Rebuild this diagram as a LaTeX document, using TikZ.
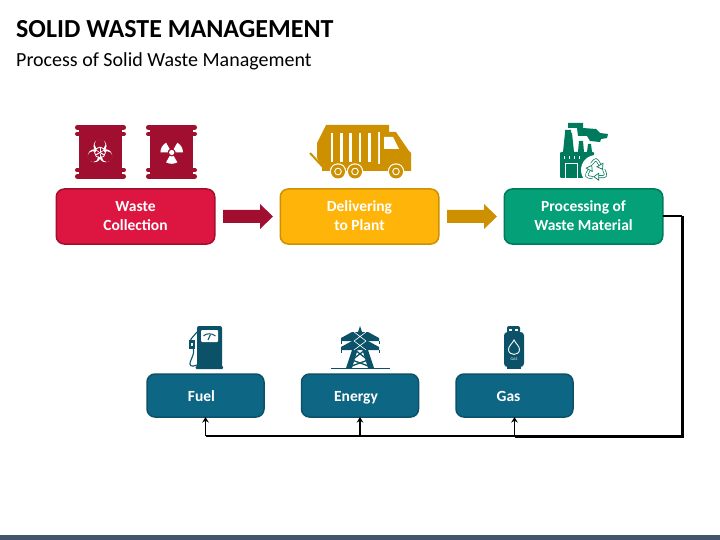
\documentclass[tikz,border=0pt]{standalone}
\usepackage{fontspec}
\usetikzlibrary{arrows.meta}
\setmainfont{Carlito}
\definecolor{redfill}{HTML}{DC1640}
\definecolor{reddark}{HTML}{A00F30}
\definecolor{yelfill}{HTML}{FFB40A}
\definecolor{yeldark}{HTML}{CC9000}
\definecolor{grnfill}{HTML}{04A078}
\definecolor{grndark}{HTML}{007A5C}
\definecolor{tealfill}{HTML}{0E6685}
\definecolor{tealdark}{HTML}{0B5269}
\definecolor{bandcol}{HTML}{44546A}
\begin{document}
\begin{tikzpicture}[>={Stealth[length=5.5pt,width=6.5pt]},x=1pt,y=-1pt,
	box/.style={draw,line width=1.5pt,rounded corners=8pt,inner sep=0pt,outer sep=0pt,align=center,text=white,font=\fontsize{15.5}{19}\selectfont\bfseries},
	bigbox/.style={box,minimum width=158.5pt,minimum height=55pt,text height=28pt,text depth=0pt},
	smallbox/.style={box,minimum width=117pt,minimum height=43pt,text height=11pt,text depth=0pt},
	blockarrow/.style={draw=none,fill=#1}]
	  \useasboundingbox (0,0) rectangle (720,540);
	  \fill[bandcol] (0,535) rectangle (720,540);
	  \node[anchor=west,inner sep=0pt,font=\fontsize{26}{30}\selectfont\bfseries] (title) at (16,29) {SOLID WASTE MANAGEMENT};
	  \node[anchor=west,inner sep=0pt,font=\fontsize{20}{24}\selectfont] (subtitle) at (16,61.5) {Process of Solid Waste Management};
	  \node[bigbox,fill=redfill,draw=reddark] (collect) at (135.5,216.5) {Waste\\Collection};
	  \node[bigbox,fill=yelfill,draw=yeldark] (deliver) at (359.5,216.5) {Delivering\\to Plant};
	  \node[bigbox,fill=grnfill,draw=grndark] (process) at (583.5,216.5) {Processing of\\Waste Material};
	  \node[smallbox,fill=tealfill,draw=tealdark] (fuel) at (205.5,395.5) {Fuel\hspace{8pt}};
	  \node[smallbox,fill=tealfill,draw=tealdark] (energy) at (360,395.5) {Energy\hspace{8pt}};
	  \node[smallbox,fill=tealfill,draw=tealdark] (gas) at (514.5,395.5) {Gas\hspace{12pt}};
	  \fill[blockarrow=reddark] (223,210) -- (260,210) -- (260,204) -- (273,216.5) -- (260,229) -- (260,223) -- (223,223) -- cycle;
	  \fill[blockarrow=yeldark] (447,210) -- (484,210) -- (484,204) -- (497,216.5) -- (484,229) -- (484,223) -- (447,223) -- cycle;
	  \coordinate (c1) at (682,216.5);
	  \coordinate (c2) at (682,436);
	  \coordinate (j1) at (gas.south |- c2);
	  \coordinate (j2) at (energy.south |- c2);
	  \coordinate (j3) at (fuel.south |- c2);
	  \draw[line width=2pt] (process.east) -- (c1);
	  \draw[line width=3pt] (c1) -- (c2) -- (j1);
	  \draw[line width=1.8pt] (j1) -- (j3);
	  \draw[->,line width=1.7pt] (j1) -- (gas.south);
	  \draw[->,line width=1.7pt] (j2) -- (energy.south);
	  \draw[->,line width=1.7pt] (j3) -- (fuel.south);
	  \foreach \bx in {75,146} {
	    \begin{scope}[shift={(\bx,125)}]
	      \fill[reddark] (4,0) rectangle (47,54);
	      \draw[reddark,line width=4.6pt,line cap=round] (2.3,2.5) -- (48.7,2.5);
	      \draw[reddark,line width=4pt,line cap=round] (2,9) -- (49,9);
	      \draw[reddark,line width=4pt,line cap=round] (2,45) -- (49,45);
	      \draw[reddark,line width=4.6pt,line cap=round] (2.3,51.5) -- (48.7,51.5);
	    \end{scope}
	  }
	  \foreach \ang in {270,30,150} {
	    \fill[white] (100,152.5) ++(\ang:6.5) circle (6.5);
	  }
	  \foreach \ang in {270,30,150} {
	    \fill[reddark] (100,152.5) ++(\ang:8.3) circle (5.4);
	  }
	  \fill[reddark] (100,152.5) circle (4.6);
	  \draw[white,line width=0.8pt] (100,152.5) circle (5.4);
	  \foreach \ang in {270,30,150} {
	    \draw[white,line width=1pt] (100,152.5) -- ++(\ang:5);
	    \draw[white,line width=0.7pt] (100,152.5) ++(\ang+180:1.5) -- ++(\ang+180:3);
	  }
	  \foreach \ang in {90,210,330} {
	    \fill[white] (171.7,152.5) ++(\ang-30:4) -- ++(\ang-30:7.3) arc (\ang-30:\ang+30:11.3) -- ++(\ang+30:-7.3) arc (\ang+30:\ang-30:4) -- cycle;
	  }
	  \fill[white] (171.7,152.5) circle (2.6);
	  \fill[yeldark] (326,125) -- (389,125) -- (389,132) -- (378,132) -- (378,171) -- (322,166) -- (317,158) -- (317,143) -- cycle;
	  \fill[yeldark] (380,132) -- (396,132) -- (409,151) -- (411,153) -- (411,171) -- (380,171) -- cycle;
	  \fill[white] (384,137) -- (393,137) -- (399,149) -- (384,149) -- cycle;
	  \fill[yeldark] (322,164) rectangle (380,171);
	  \draw[yeldark,line width=2pt] (310,153) -- (323,167);
	  \foreach \sx in {332,341.5,350.5,360,369.5} {
	    \draw[white,line width=2.4pt] (\sx,133.5) -- (\sx,162.5);
	  }
	  \foreach \wx in {338,355,396} {
	    \fill[white] (\wx,171.5) circle (8.2);
	    \fill[yeldark] (\wx,171.5) circle (7);
	    \fill[white] (\wx,171.5) circle (3.8);
	    \fill[yeldark] (\wx,171.5) circle (2.7);
	  }
	  \fill[grndark] (568,123) -- (583,123) -- (583,128) -- (596,129) -- (600,133) -- (608,134) -- (607,138) -- (601,139) -- (600,142) -- (590,141) -- (587,136) -- (578,136) -- (577,128) -- (568,128) -- cycle;
	  \fill[grndark] (565,130) -- (571,130) -- (571,133) -- (572,133) -- (574,152) -- (563,152) -- (565,133) -- cycle;
	  \fill[grndark] (579,141) -- (583,141) -- (584,152) -- (578,152) -- cycle;
	  \fill[grndark] (588,144) -- (591,144) -- (592,152) -- (587,152) -- cycle;
	  \fill[grndark,rounded corners=1pt] (560,152) -- (594,152) -- (594,178) -- (560,178) -- cycle;
	  \fill[white] (565,163) rectangle (578,178);
	  \fill[grndark] (566,164) rectangle (577,178);
	  \foreach \dx in {563.5,568.5,573.5,578.5} {
	    \fill[white] (\dx,156.5) rectangle (\dx+1.2,159.5);
	  }
	  \fill[white] (596,170) circle (15);
	  \foreach \rr in {0,120,240} {
	    \begin{scope}[shift={(596,170.5)},rotate=\rr]
	      \draw[grndark,line width=3pt,rounded corners=3pt] (-4.5,-6.5) -- (0,-12) -- (4,-5.5);
	      \draw[white,line width=1.6pt,rounded corners=3pt] (-4.5,-6.5) -- (0,-12) -- (4,-5.5);
	      \filldraw[fill=white,draw=grndark,line width=0.7pt] (7,-7.25) -- (6.5,-1.15) -- (1,-3.75) -- cycle;
	    \end{scope}
	  }
	  \fill[tealdark,rounded corners=2pt] (197,326) rectangle (222,368);
	  \fill[tealdark,rounded corners=1pt] (195.5,366) rectangle (223,369);
	  \fill[white,rounded corners=1pt] (201,330) rectangle (218,342);
	  \draw[tealdark,line width=1pt] (203.5,336) .. controls (206,333) and (212,333) .. (215.5,336);
	  \draw[tealdark,line width=1.1pt] (210.5,334.5) -- (208,340);
	  \draw[tealdark,line width=1.1pt] (197,332) -- (191,339) -- (191,345) .. controls (196,350) and (193,355) .. (191,360) .. controls (188,367) and (192,367) .. (197,365);
	  \fill[tealdark] (189,340) rectangle (194.5,349);
	  \fill[white] (191,343) rectangle (192.5,346);
	  \draw[tealdark,line width=1pt] (331,368.5) -- (390,368.5);
	  \fill[tealdark] (360,326) -- (346,368) -- (352,368) -- (360,342) -- (368,368) -- (374,368) -- cycle;
	  \fill[tealdark] (341,338) -- (352,332) -- (368,332) -- (379,338) -- (379,341) -- (341,341) -- cycle;
	  \fill[tealdark] (341,347) -- (352,341) -- (368,341) -- (379,347) -- (379,350) -- (341,350) -- cycle;
	  \draw[tealdark,line width=0.8pt] (341,341) -- (341,344) (379,341) -- (379,344) (341,350) -- (341,353) (379,350) -- (379,353);
	  \draw[white,line width=0.6pt] (354,332) -- (366,341) (366,332) -- (354,341) (354,341) -- (366,350) (366,341) -- (354,350);
	  \draw[tealdark,line width=1.3pt] (355,350) -- (368,360) (365,350) -- (352,360) (352,360) -- (371,367) (368,360) -- (349,367);
	  \fill[tealdark,rounded corners=2pt] (507,326) rectangle (520,333);
	  \fill[white] (509,328.5) rectangle (512,330.5);
	  \fill[white] (515,328.5) rectangle (518,330.5);
	  \fill[tealdark,rounded corners=3.5pt] (504,332) rectangle (524,367);
	  \fill[tealdark] (507,366) rectangle (521,369);
	  \draw[white,line width=0.9pt] (514,340) .. controls (516,344) and (519.5,346) .. (519.5,349.5) .. controls (519.5,356) and (508.5,356) .. (508.5,349.5) .. controls (508.5,346) and (512,344) .. (514,340) -- cycle;
	  \node[white,inner sep=0pt,font=\fontsize{4}{4}\selectfont] (gaslabel) at (514,359.5) {GAS};
	\end{tikzpicture}
\end{document}
